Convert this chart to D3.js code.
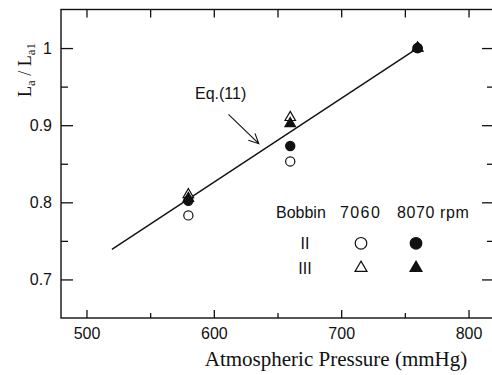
<!DOCTYPE html>
<html lang="en">
<meta charset="utf-8">
<head>
    <script src='https://d3js.org/d3.v7.min.js'></script>
    <style>
        body { margin: 0; background: #fff; }
        text { fill: #111; }
    </style>
</head>
<body>
<script>
    // values
    var pressure = [580, 660, 760];
    var bobbin2_7060 = [0.783, 0.853, 1.0];   // open circle
    var bobbin2_8070 = [0.802, 0.873, 1.0];   // filled circle
    var bobbin3_7060 = [0.810, 0.910, 1.0];   // open triangle
    var bobbin3_8070 = [0.805, 0.902, 1.0];   // filled triangle
    var eqLine = [[520, 0.739], [760, 1.0]];
    var eqArrow = [[611.5, 0.914], [635.3, 0.876]];
    var xTicks = [500, 600, 700, 800];
    var xMinor = [550, 650, 750];
    var yTicks = [0.7, 0.8, 0.9, 1];
    var yMinor = [0.75, 0.85, 0.95];

    var width = 492, height = 375;
    var sans = "Liberation Sans, Arial, sans-serif";
    var serif = "Liberation Serif, Times New Roman, serif";

    var svg = d3.select('body')
        .append("svg")
        .attr("width", width)
        .attr("height", height)

    var x = d3.scaleLinear().domain([480, 820]).range([61, 494])
    var y = d3.scaleLinear().domain([0.65, 1.05]).range([318, 9.5])

    // frame
    svg.append("rect")
        .attr("x", x(480)).attr("y", y(1.05))
        .attr("width", x(820) - x(480)).attr("height", y(0.65) - y(1.05))
        .attr("fill", "none").attr("stroke", "#111").attr("stroke-width", 1.4)

    // axes, ticks pointing inward
    function fmt(d) { return d == 1 ? "1" : d3.format(".1f")(d) }

    svg.append("g")
        .attr("transform", "translate(0," + y(0.65) + ")")
        .call(d3.axisBottom(x).tickValues(xTicks).tickSize(-8).tickPadding(10))
    svg.append("g")
        .attr("transform", "translate(0," + y(0.65) + ")")
        .call(d3.axisBottom(x).tickValues(xMinor).tickSize(-5).tickFormat(""))
    svg.append("g")
        .attr("transform", "translate(0," + y(1.05) + ")")
        .call(d3.axisTop(x).tickValues(xTicks.concat(xMinor)).tickSize(-8).tickFormat(""))

    svg.append("g")
        .attr("transform", "translate(" + x(480) + ",0)")
        .call(d3.axisLeft(y).tickValues(yTicks).tickSize(-12).tickPadding(9).tickFormat(fmt))
    svg.append("g")
        .attr("transform", "translate(" + x(480) + ",0)")
        .call(d3.axisLeft(y).tickValues(yMinor).tickSize(-7).tickFormat(""))
    svg.append("g")
        .attr("transform", "translate(" + x(820) + ",0)")
        .call(d3.axisRight(y).tickValues(yTicks).tickSize(-12).tickFormat(""))
    svg.append("g")
        .attr("transform", "translate(" + x(820) + ",0)")
        .call(d3.axisRight(y).tickValues(yMinor).tickSize(-7).tickFormat(""))

    svg.selectAll(".domain").remove()
    svg.selectAll(".tick line").attr("stroke", "#111").attr("stroke-width", 1.3)
    svg.selectAll(".tick text")
        .style("font-family", sans).style("font-size", "16px").attr("fill", "#111")

    // axis titles
    svg.append("text")
        .attr("x", 336).attr("y", 366)
        .attr("text-anchor", "middle")
        .style("font-family", serif).style("font-size", "21px")
        .text("Atmospheric Pressure (mmHg)")

    var ylab = svg.append("text")
        .attr("transform", "translate(31,70) rotate(-90)")
        .attr("text-anchor", "middle")
        .style("font-family", serif).style("font-size", "18px")
    ylab.append("tspan").text("L")
    ylab.append("tspan").attr("dy", 4).style("font-size", "13px").text("a")
    ylab.append("tspan").attr("dy", -4).text(" / L")
    ylab.append("tspan").attr("dy", 4).style("font-size", "13px").text("a1")

    // Eq.(11) line
    var line = d3.line()
        .x(function(d) { return x(d[0]) })
        .y(function(d) { return y(d[1]) })
    svg.append("path")
        .attr("d", line(eqLine))
        .attr("fill", "none").attr("stroke", "#111").attr("stroke-width", 1.4)

    // arrow with open head
    var a0 = [x(eqArrow[0][0]), y(eqArrow[0][1])]
    var a1 = [x(eqArrow[1][0]), y(eqArrow[1][1])]
    var ang = Math.atan2(a1[1] - a0[1], a1[0] - a0[0])
    var hl = 11, hw = 0.45
    svg.append("path")
        .attr("d", "M" + a0 + "L" + a1
            + "M" + [a1[0] - hl * Math.cos(ang - hw), a1[1] - hl * Math.sin(ang - hw)]
            + "L" + a1
            + "L" + [a1[0] - hl * Math.cos(ang + hw), a1[1] - hl * Math.sin(ang + hw)])
        .attr("fill", "none").attr("stroke", "#111").attr("stroke-width", 1.1)
    svg.append("text")
        .attr("x", 195).attr("y", 98.5)
        .style("font-family", sans).style("font-size", "16px")
        .text("Eq.(11)")

    // markers
    var tri = d3.symbol().type(d3.symbolTriangle).size(48)
    var triBig = d3.symbol().type(d3.symbolTriangle).size(62)

    function triangles(vals, filled) {
        svg.append("g").selectAll("path")
            .data(vals)
            .enter()
            .append("path")
            .attr("d", tri)
            .attr("transform", function(d, i) { return "translate(" + x(pressure[i]) + "," + y(d) + ")" })
            .attr("fill", filled ? "#111" : "#fff")
            .attr("stroke", "#111").attr("stroke-width", 1.2)
    }
    function circles(vals, filled) {
        svg.append("g").selectAll("circle")
            .data(vals)
            .enter()
            .append("circle")
            .attr("cx", function(d, i) { return x(pressure[i]) })
            .attr("cy", function(d) { return y(d) })
            .attr("r", 4.6)
            .attr("fill", filled ? "#111" : "#fff")
            .attr("stroke", "#111").attr("stroke-width", 1.2)
    }
    triangles(bobbin3_7060, false)
    triangles(bobbin3_8070, true)
    circles(bobbin2_7060, false)
    circles(bobbin2_8070, true)

    // legend
    var leg = svg.append("g")
        .style("font-family", sans).style("font-size", "16px")
    leg.append("text").attr("x", 276).attr("y", 218).text("Bobbin")
    leg.append("text").attr("x", 340).attr("y", 218).attr("letter-spacing", 1.4).text("7060")
    leg.append("text").attr("x", 397).attr("y", 218).attr("letter-spacing", 0.6).text("8070 rpm")
    leg.append("text").attr("x", 305).attr("y", 249).attr("text-anchor", "middle").text("II")
    leg.append("text").attr("x", 305).attr("y", 274).attr("text-anchor", "middle").text("III")

    leg.append("circle").attr("cx", 361).attr("cy", 243.3).attr("r", 5.8)
        .attr("fill", "#fff").attr("stroke", "#111").attr("stroke-width", 1.2)
    leg.append("circle").attr("cx", 416).attr("cy", 243.3).attr("r", 5.8)
        .attr("fill", "#111").attr("stroke", "#111").attr("stroke-width", 1.2)
    leg.append("path").attr("d", triBig).attr("transform", "translate(361,268)")
        .attr("fill", "#fff").attr("stroke", "#111").attr("stroke-width", 1.2)
    leg.append("path").attr("d", triBig).attr("transform", "translate(416,268)")
        .attr("fill", "#111").attr("stroke", "#111").attr("stroke-width", 1.2)
</script>
</body>
</html>
